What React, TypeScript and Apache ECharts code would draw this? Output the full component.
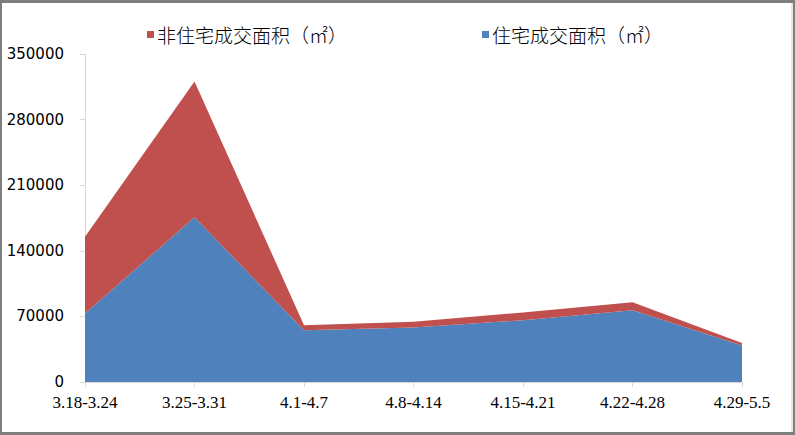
import React, { useEffect, useRef } from "react";
import * as echarts from "echarts";

const categories = ["3.18-3.24", "3.25-3.31", "4.1-4.7", "4.8-4.14", "4.15-4.21", "4.22-4.28", "4.29-5.5"];
const residential = [73100, 175700, 55300, 58200, 66000, 76600, 38900];
const nonResidential = [81900, 145000, 5300, 6000, 8200, 8600, 2800];
const yTicks = { min: 0, max: 350000, interval: 70000 };
const seriesNames = ["住宅成交面积（㎡）", "非住宅成交面积（㎡）"];

export default function App() {
  const ref = useRef<HTMLDivElement>(null);
  useEffect(() => {
    if (!ref.current) return;
    const chart = echarts.init(ref.current, null, { renderer: "svg" });
    const border = "#7f7f7f";
    const legendText = {
      fontFamily: "Noto Sans CJK SC",
      fontSize: 19,
      fontWeight: 300,
      color: "#000",
      padding: [0, 0, 0, -2],
    };
    chart.setOption({
      animation: false,
      backgroundColor: "#fff",
      graphic: [
        { type: "rect", left: 0, top: 0, shape: { width: 795, height: 3 }, style: { fill: border } },
        { type: "rect", left: 0, top: 0, shape: { width: 2, height: 435 }, style: { fill: border } },
        { type: "rect", left: 793, top: 0, shape: { width: 2, height: 435 }, style: { fill: border } },
        { type: "rect", left: 791, top: 3, shape: { width: 2, height: 429 }, style: { fill: "#e6e6e6" } },
        { type: "rect", left: 0, top: 432, shape: { width: 795, height: 3 }, style: { fill: border } },
      ],
      legend: [
        {
          data: [seriesNames[1]],
          left: 142,
          top: 20,
          itemWidth: 7,
          itemHeight: 7,
          icon: "rect",
          textStyle: legendText,
        },
        {
          data: [seriesNames[0]],
          left: 477,
          top: 20,
          itemWidth: 7,
          itemHeight: 7,
          icon: "rect",
          textStyle: legendText,
        },
      ],
      grid: { left: 85, right: 53, top: 54, bottom: 53 },
      xAxis: {
        type: "category",
        data: categories,
        boundaryGap: false,
        axisLine: { lineStyle: { color: "#d9d9d9", width: 1 } },
        axisTick: { show: true, length: 5, lineStyle: { color: "#d9d9d9" } },
        axisLabel: {
          color: "#000",
          fontFamily: "Liberation Sans Narrow",
          fontSize: 17,
          margin: 12,
          interval: 0,
        },
        splitLine: { show: false },
      },
      yAxis: {
        type: "value",
        min: yTicks.min,
        max: yTicks.max,
        interval: yTicks.interval,
        axisLine: { show: true, lineStyle: { color: "#d9d9d9", width: 1 } },
        axisTick: { show: true, length: 5, lineStyle: { color: "#d9d9d9" } },
        axisLabel: {
          color: "#000",
          fontFamily: "DejaVu Sans",
          fontSize: 15,
          margin: 21,
          formatter: (v: number) => String(v),
        },
        splitLine: { show: false },
      },
      series: [
        {
          name: seriesNames[0],
          type: "line",
          stack: "total",
          data: residential,
          symbol: "none",
          lineStyle: { width: 0 },
          itemStyle: { color: "#4F81BD" },
          areaStyle: { color: "#4F81BD", opacity: 1 },
        },
        {
          name: seriesNames[1],
          type: "line",
          stack: "total",
          data: nonResidential,
          symbol: "none",
          lineStyle: { width: 0 },
          itemStyle: { color: "#C0504D" },
          areaStyle: { color: "#C0504D", opacity: 1 },
        },
      ],
    });
    return () => chart.dispose();
  }, []);
  return (
    <div
      ref={ref}
      style={{ position: "fixed", left: 0, top: 0, width: 795, height: 435 }}
    />
  );
}
